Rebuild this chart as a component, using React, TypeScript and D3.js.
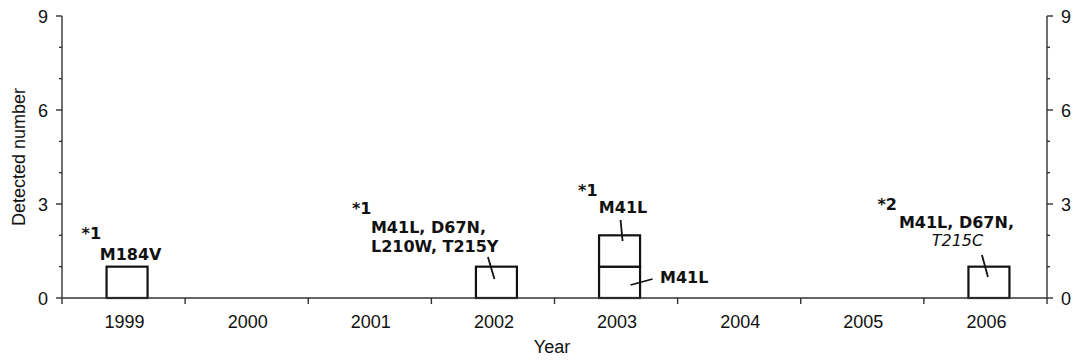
import React, { useEffect, useRef } from 'react';
import * as d3 from 'd3';

// chart data
const years = ['1999', '2000', '2001', '2002', '2003', '2004', '2005', '2006'];
const counts = [1, 0, 0, 1, 2, 0, 0, 1];
const yTicks = [0, 1, 2, 3, 4, 5, 6, 7, 8, 9];
const yLabels = [0, 3, 6, 9];

// annotation text, placed relative to the year it belongs to
const notes = [
  { year: '1999', text: '*1', dx: -42, dy: -59, anchor: 'start', italic: false },
  { year: '1999', text: 'M184V', dx: 7, dy: -38, anchor: 'middle', italic: false },
  { year: '2002', text: '*1', dx: -141, dy: -84, anchor: 'start', italic: false },
  { year: '2002', text: 'M41L, D67N,', dx: -122, dy: -65, anchor: 'start', italic: false },
  { year: '2002', text: 'L210W, T215Y', dx: -122, dy: -46, anchor: 'start', italic: false },
  { year: '2003', text: '*1', dx: -38, dy: -102, anchor: 'start', italic: false },
  { year: '2003', text: 'M41L', dx: 7, dy: -85, anchor: 'middle', italic: false },
  { year: '2003', text: 'M41L', dx: 44, dy: -15, anchor: 'start', italic: false },
  { year: '2006', text: '*2', dx: -108, dy: -88, anchor: 'start', italic: false },
  { year: '2006', text: 'M41L, D67N,', dx: -29, dy: -70, anchor: 'middle', italic: false },
  { year: '2006', text: 'T215C', dx: -28, dy: -52, anchor: 'middle', italic: true },
];

const leaders = [
  { year: '2002', x1: -5, y1: -41, x2: 1.5, y2: -19 },
  { year: '2003', x1: 4.5, y1: -78, x2: 6.5, y2: -57 },
  { year: '2003', x1: 14.5, y1: -13, x2: 36.5, y2: -19 },
  { year: '2006', x1: -3.5, y1: -43, x2: 2.5, y2: -21 },
];

export default function App() {
  const ref = useRef<SVGSVGElement>(null);

  useEffect(() => {
    document.body.style.margin = '0';
    const svg = d3.select(ref.current);
    svg.selectAll('*').remove();

    const left = 62, right = 1047, top = 16, bottom = 298;
    const x = d3.scaleBand().domain(years).range([left, right]);
    const y = d3.scaleLinear().domain([0, 9]).range([bottom, top]);
    const bw = 41, shift = 3.5;
    const axisColor = '#333';
    const reg = '"Liberation Sans", Arial, sans-serif';
    const bold = '"DejaVu Sans", sans-serif';

    // boxes, one per detected case
    const boxes: { year: string; level: number }[] = [];
    years.forEach((yr, i) => {
      for (let k = 0; k < counts[i]; k++) boxes.push({ year: yr, level: k });
    });
    svg.append('g').selectAll('rect').data(boxes).join('rect')
      .attr('x', d => x(d.year)! + x.bandwidth() / 2 + shift - bw / 2)
      .attr('y', d => y(d.level + 1))
      .attr('width', bw)
      .attr('height', d => y(d.level) - y(d.level + 1))
      .attr('fill', 'white')
      .attr('stroke', '#111')
      .attr('stroke-width', 2.2);

    const g = svg.append('g').attr('stroke', axisColor).attr('stroke-width', 1.4);
    g.append('line').attr('x1', left).attr('x2', left).attr('y1', top).attr('y2', bottom);
    g.append('line').attr('x1', right).attr('x2', right).attr('y1', top).attr('y2', bottom);
    g.append('line').attr('x1', left).attr('x2', right).attr('y1', bottom).attr('y2', bottom);

    yTicks.forEach(t => {
      const len = yLabels.includes(t) ? 6 : 3;
      g.append('line').attr('x1', left - len).attr('x2', left).attr('y1', y(t)).attr('y2', y(t));
      g.append('line').attr('x1', right).attr('x2', right + len).attr('y1', y(t)).attr('y2', y(t));
    });
    const bounds = years.map(yr => x(yr)!).concat([right]);
    bounds.forEach(b => {
      g.append('line').attr('x1', b).attr('x2', b).attr('y1', bottom).attr('y2', bottom + 6);
    });

    const txt = svg.append('g').attr('fill', '#111').attr('font-family', reg).attr('font-size', 18);
    yLabels.forEach(t => {
      txt.append('text').attr('x', left - 14).attr('y', y(t) + 6.5).attr('text-anchor', 'end').text(t);
      txt.append('text').attr('x', right + 14).attr('y', y(t) + 6.5).attr('text-anchor', 'start').text(t);
    });
    years.forEach(yr => {
      txt.append('text').attr('x', x(yr)! + x.bandwidth() / 2 + 1).attr('y', 328)
        .attr('text-anchor', 'middle').text(yr);
    });
    txt.append('text').attr('x', 552).attr('y', 353).attr('text-anchor', 'middle').text('Year');
    txt.append('text').attr('transform', `translate(25,${(top + bottom) / 2}) rotate(-90)`)
      .attr('text-anchor', 'middle').text('Detected number');

    const ann = svg.append('g').attr('fill', '#111').attr('font-family', bold).attr('font-size', 16);
    notes.forEach(n => {
      ann.append('text')
        .attr('x', x(n.year)! + x.bandwidth() / 2 + n.dx)
        .attr('y', y(0) + n.dy)
        .attr('text-anchor', n.anchor)
        .attr('font-weight', n.italic ? 'normal' : 'bold')
        .attr('font-style', n.italic ? 'italic' : 'normal')
        .text(n.text);
    });
    svg.append('g').selectAll('line').data(leaders).join('line')
      .attr('x1', d => x(d.year)! + x.bandwidth() / 2 + d.x1)
      .attr('y1', d => y(0) + d.y1)
      .attr('x2', d => x(d.year)! + x.bandwidth() / 2 + d.x2)
      .attr('y2', d => y(0) + d.y2)
      .attr('stroke', '#111')
      .attr('stroke-width', 1.8);
  }, []);

  return <svg ref={ref} width={1082} height={363} style={{ display: 'block', background: 'white' }} />;
}
